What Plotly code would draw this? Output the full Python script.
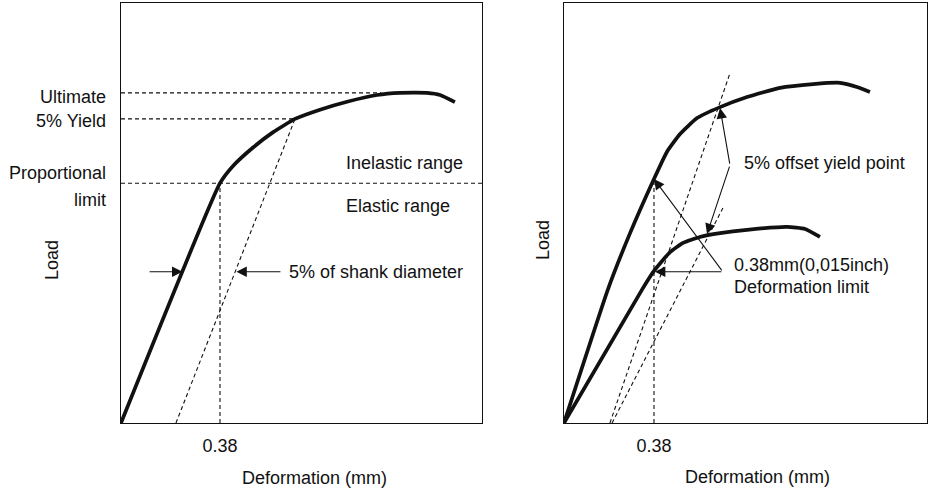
import plotly.graph_objects as go

# ---------------- data (deformation in mm, load in relative units 0-100) --------------
# Left panel
L_curve_x = [0, 0.38, 0.430, 0.507, 0.583, 0.668, 0.764, 0.868, 0.983, 1.071, 1.175, 1.225, 1.282]
L_curve_y = [0, 57.1, 61.2, 65.6, 69.2, 72.4, 74.6, 76.5, 78.1, 78.6, 78.6, 78.1, 76.4]
L_offset_x = [0.211, 0.668]
L_offset_y = [0, 72.4]
L_ultimate = 78.6
L_ultimate_xend = 1.0
L_yield = 72.4
L_yield_xend = 0.668
L_prop = 57.1
L_limit_x = 0.38
L_range_x = 1.386

# Right panel
R_upper_x = [0, 0.186, 0.279, 0.38, 0.435, 0.490, 0.562, 0.659, 0.773, 0.912, 1.052, 1.166, 1.237, 1.292]
R_upper_y = [0, 31.9, 45.2, 58.1, 64.6, 68.8, 72.6, 75.2, 77.6, 79.8, 80.7, 81.0, 80.0, 78.8]
R_lower_x = [0, 0.329, 0.38, 0.448, 0.503, 0.574, 0.659, 0.773, 0.942, 1.018, 1.081]
R_lower_y = [0, 31.7, 36.2, 40.7, 42.9, 44.3, 45.2, 46.0, 46.7, 46.2, 44.3]
R_offA_x = [0.194, 0.701]
R_offA_y = [0, 83.3]
R_offB_x = [0.203, 0.671]
R_offB_y = [0, 51.2]
R_limit_x = 0.38
R_limit_top = 58.1
R_range_x = 1.533

tick_vals = [0.38]
tick_text = ["0.38"]
y_range = [0, 100]

# ---------------- figure ----------------
W, H = 928, 494
FONT = "Liberation Sans, Arial, sans-serif"
FS = 18
BLACK = "#111111"

def px_x(p):
    return p / W

def px_y(p):
    return 1 - p / H

fig = go.Figure()

thick = dict(color=BLACK, width=3.7, shape="spline", smoothing=0.45)
dashed = dict(color=BLACK, width=1.1, dash="4px,3px")

# left panel traces
fig.add_trace(go.Scatter(x=L_curve_x, y=L_curve_y, mode="lines", line=thick, xaxis="x", yaxis="y"))
fig.add_trace(go.Scatter(x=L_offset_x, y=L_offset_y, mode="lines", line=dashed, xaxis="x", yaxis="y"))
fig.add_trace(go.Scatter(x=[0, L_ultimate_xend], y=[L_ultimate, L_ultimate], mode="lines", line=dashed, xaxis="x", yaxis="y"))
fig.add_trace(go.Scatter(x=[0, L_yield_xend], y=[L_yield, L_yield], mode="lines", line=dashed, xaxis="x", yaxis="y"))
fig.add_trace(go.Scatter(x=[0, L_range_x], y=[L_prop, L_prop], mode="lines", line=dashed, xaxis="x", yaxis="y"))
fig.add_trace(go.Scatter(x=[L_limit_x, L_limit_x], y=[0, L_prop], mode="lines", line=dashed, xaxis="x", yaxis="y"))

# right panel traces
fig.add_trace(go.Scatter(x=R_upper_x, y=R_upper_y, mode="lines", line=thick, xaxis="x2", yaxis="y2"))
fig.add_trace(go.Scatter(x=R_lower_x, y=R_lower_y, mode="lines", line=thick, xaxis="x2", yaxis="y2"))
fig.add_trace(go.Scatter(x=R_offA_x, y=R_offA_y, mode="lines", line=dashed, xaxis="x2", yaxis="y2"))
fig.add_trace(go.Scatter(x=R_offB_x, y=R_offB_y, mode="lines", line=dashed, xaxis="x2", yaxis="y2"))
fig.add_trace(go.Scatter(x=[R_limit_x, R_limit_x], y=[0, R_limit_top], mode="lines", line=dashed, xaxis="x2", yaxis="y2"))

ax_common = dict(showgrid=False, zeroline=False, showline=True, linecolor=BLACK, linewidth=1.1,
                 mirror=True, fixedrange=True)
xtick = dict(tickmode="array", tickvals=tick_vals, ticktext=tick_text, ticks="outside", ticklen=6,
             tickcolor="rgba(0,0,0,0)", tickfont=dict(family=FONT, size=FS, color=BLACK))

fig.update_layout(
    width=W, height=H, margin=dict(l=0, r=0, t=0, b=0),
    paper_bgcolor="white", plot_bgcolor="white", showlegend=False,
    font=dict(family=FONT, size=FS, color=BLACK),
    xaxis=dict(**ax_common, **xtick, domain=[px_x(121), px_x(482)], range=[0, L_range_x], anchor="y"),
    yaxis=dict(**ax_common, domain=[px_y(423), px_y(3)], range=y_range, showticklabels=False, anchor="x"),
    xaxis2=dict(**ax_common, **xtick, domain=[px_x(564), px_x(927)], range=[0, R_range_x], anchor="y2"),
    yaxis2=dict(**ax_common, domain=[px_y(423), px_y(3)], range=y_range, showticklabels=False, anchor="x2"),
)

ann = []

def text(x, y, s, xref, yref, xanchor="left", angle=0):
    ann.append(dict(x=x, y=y, xref=xref, yref=yref, text=s, showarrow=False, xanchor=xanchor,
                    yanchor="middle", textangle=angle, font=dict(family=FONT, size=FS, color=BLACK)))

def arrow(x0, y0, x1, y1, xr, yr):
    ann.append(dict(x=x1, y=y1, ax=x0, ay=y0, xref=xr, yref=yr, axref=xr, ayref=yr, text="",
                    showarrow=True, arrowhead=2, arrowsize=1.9, arrowwidth=1.1,
                    arrowcolor=BLACK, standoff=0, startstandoff=0))

# left labels
text(px_x(108), L_ultimate - 1.0, "Ultimate", "paper", "y", "right")
text(px_x(108), L_yield - 0.5, "5% Yield", "paper", "y", "right")
text(px_x(108), 59.5, "Proportional", "paper", "y", "right")
text(px_x(108), 53.1, "limit", "paper", "y", "right")
text(0.856, 61.9, "Inelastic range", "x", "y")
text(0.856, 51.7, "Elastic range", "x", "y")
text(0.637, 36.0, "5% of shank diameter", "x", "y")
arrow(0.104, 36.0, 0.236, 36.0, "x", "y")
arrow(0.618, 36.0, 0.443, 36.0, "x", "y")

# right labels
text(0.752, 61.9, "5% offset yield point", "x2", "y2")
text(0.709, 37.6, "0.38mm(0,015inch)", "x2", "y2")
text(0.709, 32.4, "Deformation limit", "x2", "y2")
arrow(0.701, 61.4, 0.659, 75.0, "x2", "y2")
arrow(0.701, 61.4, 0.604, 45.0, "x2", "y2")
arrow(0.671, 36.0, 0.384, 36.0, "x2", "y2")
arrow(0.671, 36.0, 0.38, 58.1, "x2", "y2")

# axis titles
text(px_x(314), px_y(478), "Deformation (mm)", "paper", "paper", "center")
text(px_x(757), px_y(477), "Deformation (mm)", "paper", "paper", "center")
text(px_x(52), px_y(260), "Load", "paper", "paper", "center", -90)
text(px_x(543), px_y(240), "Load", "paper", "paper", "center", -90)

fig.update_layout(annotations=ann)

fig.write_html("out.html")
